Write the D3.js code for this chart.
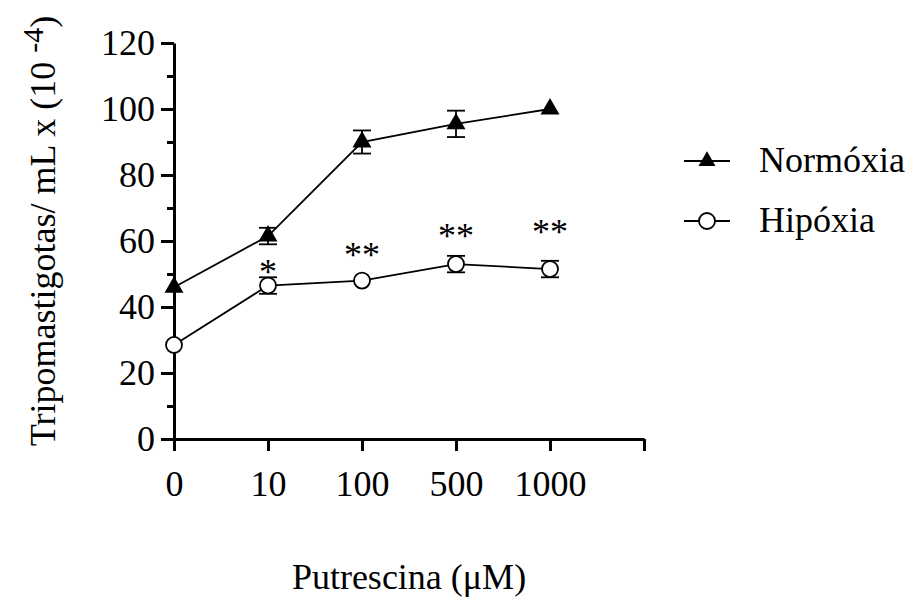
<!DOCTYPE html>
<html lang="en">
<head>
  <meta charset="UTF-8">
  <script src="https://d3js.org/d3.v7.min.js"></script>
  <style>
    body { margin: 0; padding: 0; background: #fff; overflow: hidden; }
    text { font-family: "Liberation Serif", "Times New Roman", serif; fill: #000; }
  </style>
</head>
<body>
<script>
  // data
  const categories = ['0', '10', '100', '500', '1000'];
  const normoxia = [46, 61.5, 90, 95.5, 100];
  const normoxiaErr = [0, 2.5, 3.5, 4, 0];
  const hipoxia = [28.5, 46.5, 48, 53, 51.5];
  const hipoxiaErr = [0, 2.5, 0, 2.5, 2.5];
  const stars = ['', '*', '**', '**', '**'];
  const starLevel = [0, 47, 52, 58, 59];
  const yTicks = [0, 20, 40, 60, 80, 100, 120];
  const yMinorTicks = [10, 30, 50, 70, 90, 110];

  const W = 916, H = 601, FS = 36;

  const svg = d3.select('body').append('svg')
    .attr('width', W)
    .attr('height', H);

  // one extra empty slot on the right, like the original
  const x = d3.scaleLinear().domain([0, 5]).range([174, 644]);
  const y = d3.scaleLinear().domain([0, 120]).range([439, 43]);

  // axes
  const xAxis = svg.append('g')
    .attr('transform', `translate(0,${y(0)})`)
    .call(d3.axisBottom(x)
      .tickValues([0, 1, 2, 3, 4, 5])
      .tickFormat(i => categories[i] || '')
      .tickSize(12).tickSizeOuter(0).tickPadding(19));

  const yAxis = svg.append('g')
    .attr('transform', `translate(${x(0)},0)`)
    .call(d3.axisLeft(y)
      .tickValues(yTicks)
      .tickSize(13).tickSizeOuter(0).tickPadding(6));

  const yMinor = svg.append('g')
    .attr('transform', `translate(${x(0)},0)`)
    .call(d3.axisLeft(y)
      .tickValues(yMinorTicks)
      .tickFormat('')
      .tickSize(7).tickSizeOuter(0));
  yMinor.select('.domain').remove();

  [xAxis, yAxis, yMinor].forEach(g => {
    g.selectAll('path, line').attr('stroke', '#000').attr('stroke-width', 3);
    g.selectAll('text')
      .style('font-family', '"Liberation Serif", "Times New Roman", serif')
      .style('font-size', FS + 'px')
      .attr('fill', '#000');
  });

  // axis titles
  svg.append('text')
    .attr('x', (x(0) + x(5)) / 2)
    .attr('y', 589)
    .attr('text-anchor', 'middle')
    .style('font-size', FS + 'px')
    .text('Putrescina (\u03BCM)');

  const yt = svg.append('text')
    .attr('transform', 'translate(55,231) rotate(-90)')
    .attr('text-anchor', 'middle')
    .style('font-size', FS + 'px');
  yt.append('tspan').text('Tripomastigotas/ mL x (10 ');
  yt.append('tspan').attr('dy', -12).style('font-size', '30px').text('-4');
  yt.append('tspan').attr('dy', 12).text(')');

  const line = d3.line()
    .x((d, i) => x(i))
    .y(d => y(d));

  function drawSeries(vals, errs, marker) {
    const g = svg.append('g');
    g.append('path')
      .datum(vals)
      .attr('d', line)
      .attr('fill', 'none')
      .attr('stroke', '#000')
      .attr('stroke-width', 1.8);

    const eb = g.selectAll('.eb')
      .data(vals.map((v, i) => ({ v, e: errs[i], i })).filter(d => d.e > 0))
      .enter().append('g');
    eb.append('line')
      .attr('x1', d => x(d.i)).attr('x2', d => x(d.i))
      .attr('y1', d => y(d.v + d.e)).attr('y2', d => y(d.v - d.e));
    eb.append('line')
      .attr('x1', d => x(d.i) - 9).attr('x2', d => x(d.i) + 9)
      .attr('y1', d => y(d.v + d.e)).attr('y2', d => y(d.v + d.e));
    eb.append('line')
      .attr('x1', d => x(d.i) - 9).attr('x2', d => x(d.i) + 9)
      .attr('y1', d => y(d.v - d.e)).attr('y2', d => y(d.v - d.e));
    eb.selectAll('line').attr('stroke', '#000').attr('stroke-width', 1.8);

    if (marker === 'triangle') {
      g.selectAll('.pt').data(vals).enter().append('path')
        .attr('transform', (d, i) => `translate(${x(i)},${y(d)})`)
        .attr('d', d3.symbol(d3.symbolTriangle).size(156))
        .attr('fill', '#000');
    } else {
      g.selectAll('.pt').data(vals).enter().append('circle')
        .attr('cx', (d, i) => x(i))
        .attr('cy', d => y(d))
        .attr('r', 8)
        .attr('fill', '#fff')
        .attr('stroke', '#000')
        .attr('stroke-width', 1.8);
    }
  }

  drawSeries(normoxia, normoxiaErr, 'triangle');
  drawSeries(hipoxia, hipoxiaErr, 'circle');

  // significance marks
  svg.selectAll('.star')
    .data(stars)
    .enter().append('text')
    .attr('x', (d, i) => x(i))
    .attr('y', (d, i) => y(starLevel[i]))
    .attr('text-anchor', 'middle')
    .style('font-size', FS + 'px')
    .text(d => d);

  // legend
  const legend = [
    { name: 'Normóxia', marker: 'triangle', y: 161 },
    { name: 'Hipóxia', marker: 'circle', y: 221 }
  ];
  const lg = svg.selectAll('.lg').data(legend).enter().append('g');
  lg.append('line')
    .attr('x1', 684).attr('x2', 730)
    .attr('y1', d => d.y).attr('y2', d => d.y)
    .attr('stroke', '#000').attr('stroke-width', 1.8);
  lg.filter(d => d.marker === 'triangle').append('path')
    .attr('transform', d => `translate(707,${d.y})`)
    .attr('d', d3.symbol(d3.symbolTriangle).size(125))
    .attr('fill', '#000');
  lg.filter(d => d.marker === 'circle').append('circle')
    .attr('cx', 707).attr('cy', d => d.y).attr('r', 8)
    .attr('fill', '#fff').attr('stroke', '#000').attr('stroke-width', 1.8);
  lg.append('text')
    .attr('x', 759)
    .attr('y', d => d.y + 11)
    .style('font-size', FS + 'px')
    .text(d => d.name);
</script>
</body>
</html>
